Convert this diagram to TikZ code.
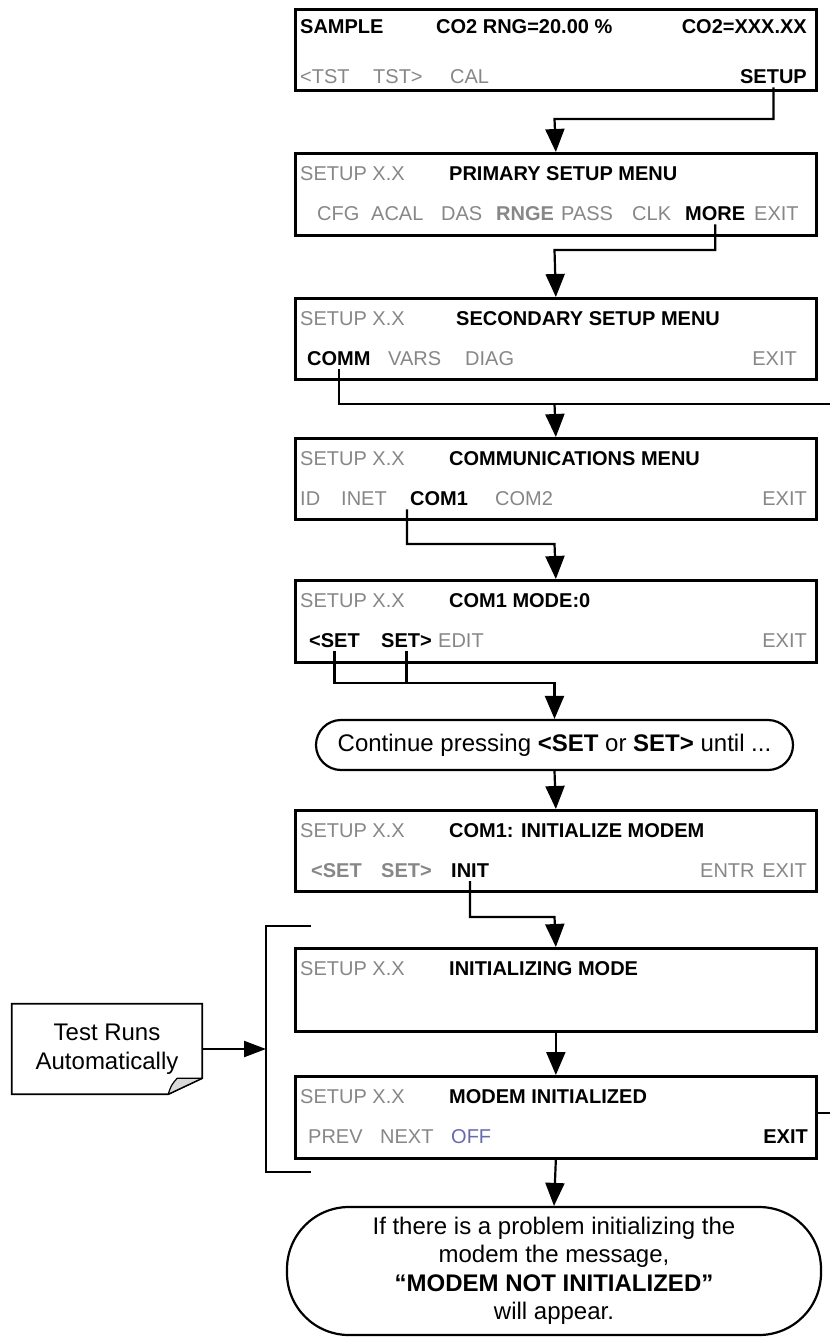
\documentclass[tikz,border=0pt]{standalone}
\usepackage{fontspec}
\setmainfont{Liberation Sans}
\usetikzlibrary{arrows.meta}
\definecolor{inact}{RGB}{135,135,135}
\definecolor{offc}{RGB}{105,105,175}
\newcommand\fsA{\fontsize{20}{24}\selectfont}
\newcommand\fsB{\fontsize{24}{28.5}\selectfont}
\begin{document}
\begin{tikzpicture}[x=1pt,y=-1pt,
  scr/.style={draw, line width=2.7pt, minimum width=521pt, minimum height=#1, anchor=north west, inner sep=0pt},
  scr/.default=82pt,
  t/.style={anchor=base west, inner sep=0pt, font=\fsA},
  tr/.style={anchor=base east, inner sep=0pt, font=\fsA},
  g/.style={text=inact},
  bf/.style={font=\fsA\bfseries},
  ln/.style={line width=2.2pt, line join=miter},
  arr/.style={ln, -{Triangle[length=23pt,width=19pt]}},
  arrn/.style={ln, -{Triangle[length=22pt,width=16pt]}},
  pill/.style={draw, line width=2.2pt, inner sep=0pt, font=\fsB, align=center}
]
\fill[white] (0,0) rectangle (830,1338);
\useasboundingbox (0,0) rectangle (830,1338);

% ---------- screens ----------
\node[scr=81pt] (b1) at (294,8) {};
\node[scr] (b2) at (294,152) {};
\node[scr=81pt] (b3) at (294,297) {};
\node[scr=81pt] (b4) at (294,437) {};
\node[scr] (b5) at (294,579) {};
\node[scr=81pt] (b6) at (294,809) {};
\node[scr=83pt] (b7) at (294,947) {};
\node[scr] (b8) at (294,1075) {};

% box 1
\node[t,bf] (sample) at (300,34) {SAMPLE};
\node[t,bf] (rng) at (436,34) {CO2 RNG=20.00 \%};
\node[tr,bf] (co2) at (807,34) {CO2=XXX.XX};
\node[t,g] (tstl) at (300,83) {<TST};
\node[t,g] (tstr) at (373,83) {TST>};
\node[t,g] (cal) at (450,83) {CAL};
\node[tr,bf] (setup) at (807,83) {SETUP};

% box 2
\node[t,g] (sx2) at (300,180) {SETUP X.X};
\node[t,bf] (prim) at (449,180) {PRIMARY SETUP MENU};
\node[t,g] (cfg) at (317,220) {CFG};
\node[t,g] (acal) at (371,220) {ACAL};
\node[t,g] (das) at (441,220) {DAS};
\node[t,bf,g] (rnge) at (496,220) {RNGE};
\node[t,g] (pass) at (561,220) {PASS};
\node[t,g] (clk) at (632,220) {CLK};
\node[t,bf] (more) at (685,220) {MORE};
\node[t,g] (exit2) at (754,220) {EXIT};

% box 3
\node[t,g] (sx3) at (300,325) {SETUP X.X};
\node[t,bf] (sec) at (456,325) {SECONDARY SETUP MENU};
\node[t,bf] (comm) at (307,365) {COMM};
\node[t,g] (vars) at (388,365) {VARS};
\node[t,g] (diag) at (465,365) {DIAG};
\node[tr,g] (exit3) at (797,365) {EXIT};

% box 4
\node[t,g] (sx4) at (300,465) {SETUP X.X};
\node[t,bf] (commu) at (449,465) {COMMUNICATIONS MENU};
\node[t,g] (idk) at (300,505) {ID};
\node[t,g] (inet) at (341,505) {INET};
\node[t,bf] (com1) at (410,505) {COM1};
\node[t,g] (com2) at (495,505) {COM2};
\node[tr,g] (exit4) at (807,505) {EXIT};

% box 5
\node[t,g] (sx5) at (300,607) {SETUP X.X};
\node[t,bf] (mode) at (449,607) {COM1 MODE:0};
\node[t,bf] (setl5) at (309,647) {<SET};
\node[t,bf] (setr5) at (381,647) {SET>};
\node[t,g] (edit) at (438,647) {EDIT};
\node[tr,g] (exit5) at (807,647) {EXIT};

% box 6
\node[t,g] (sx6) at (300,837) {SETUP X.X};
\node[t,bf] (initm) at (449,837) {COM1: INITIALIZE MODEM};
\node[t,bf,g] (setl6) at (311,877) {<SET};
\node[t,bf,g] (setr6) at (381,877) {SET>};
\node[t,bf] (init) at (451,877) {INIT};
\node[t,g] (entr) at (700,877) {ENTR};
\node[tr,g] (exit6) at (807,877) {EXIT};

% box 7
\node[t,g] (sx7) at (300,975) {SETUP X.X};
\node[t,bf] (initing) at (449,975) {INITIALIZING MODE};

% box 8
\node[t,g] (sx8) at (300,1103) {SETUP X.X};
\node[t,bf] (modini) at (449,1103) {MODEM INITIALIZED};
\node[t,g] (prev) at (308,1143) {PREV};
\node[t,g] (next) at (380,1143) {NEXT};
\node[t,text=offc] (off) at (451,1143) {OFF};
\node[tr,bf] (exit8) at (808,1143) {EXIT};

% ---------- callouts ----------
\node[pill, minimum width=477pt, minimum height=50pt, rounded corners=25pt] (p1) at (554.5,745)
  {Continue pressing \textbf{<SET} or \textbf{SET>} until ...};
\node[pill, minimum width=534pt, minimum height=128pt, rounded corners=62pt] (p2) at (554,1271)
  {If there is a problem initializing the\\modem the message,\\\textbf{“MODEM NOT INITIALIZED”}\\will appear.};

\node[inner sep=0pt, minimum width=190pt, minimum height=90pt, align=center,
      font=\fontsize{24}{29}\selectfont] (note) at (107,1049) {Test Runs\\Automatically};
\draw[line width=1.8pt, line join=miter] (note.north west) -- (note.north east)
  -- ([yshift=16pt]note.south east) -- ([xshift=-34pt]note.south east)
  -- (note.south west) -- cycle;
\draw[line width=1.2pt, fill=black!15, line join=round] ([xshift=-34pt]note.south east)
  .. controls ([xshift=-31pt,yshift=9pt]note.south east) .. ([xshift=-25pt,yshift=16pt]note.south east)
  -- ([yshift=16pt]note.south east) -- cycle;

% ---------- connectors ----------
\coordinate (k1) at (554.5,119);
\draw[arr] ([yshift=-4pt]setup.south) |- (k1) -- (b2.north);
\coordinate (k2) at (554.5,250);
\draw[arr] ([yshift=-4pt]more.south) |- (k2) -- (b3.north);
\coordinate (k3) at (554.5,404);
\coordinate (eA) at (830,404);
\draw[ln] ([yshift=-4pt]comm.south) |- (eA);
\draw[arr] (k3) -- (b4.north);
\coordinate (k4) at (554.5,544);
\draw[arr] ([xshift=-3pt,yshift=-4pt]com1.south west) |- (k4) -- (b5.north);
\coordinate (k5) at (554.5,683);
\draw[arr] ([yshift=-4pt]setl5.south) |- (k5) -- (p1.north);
\draw[ln] ([yshift=-4pt]setr5.south) -- (setr5.south |- k5);
\draw[arr] (p1.south) -- (b6.north);
\coordinate (k6) at (554.5,917);
\draw[arr] ([yshift=-4pt]init.south) |- (k6) -- (b7.north);
\draw[arr] (b7.south) -- (b8.north);
\coordinate (eB) at (830,1113);
\draw[ln] (b8.east |- eB) -- (eB);
\draw[arr] (b8.south) -- (p2.north);

% bracket
\draw[ln] (311,926) -- (266,926) -- (266,1172) -- (311,1172);
\coordinate (brM) at (266,1049);
\draw[arrn] (note.east) -- (brM);
\end{tikzpicture}
\end{document}
